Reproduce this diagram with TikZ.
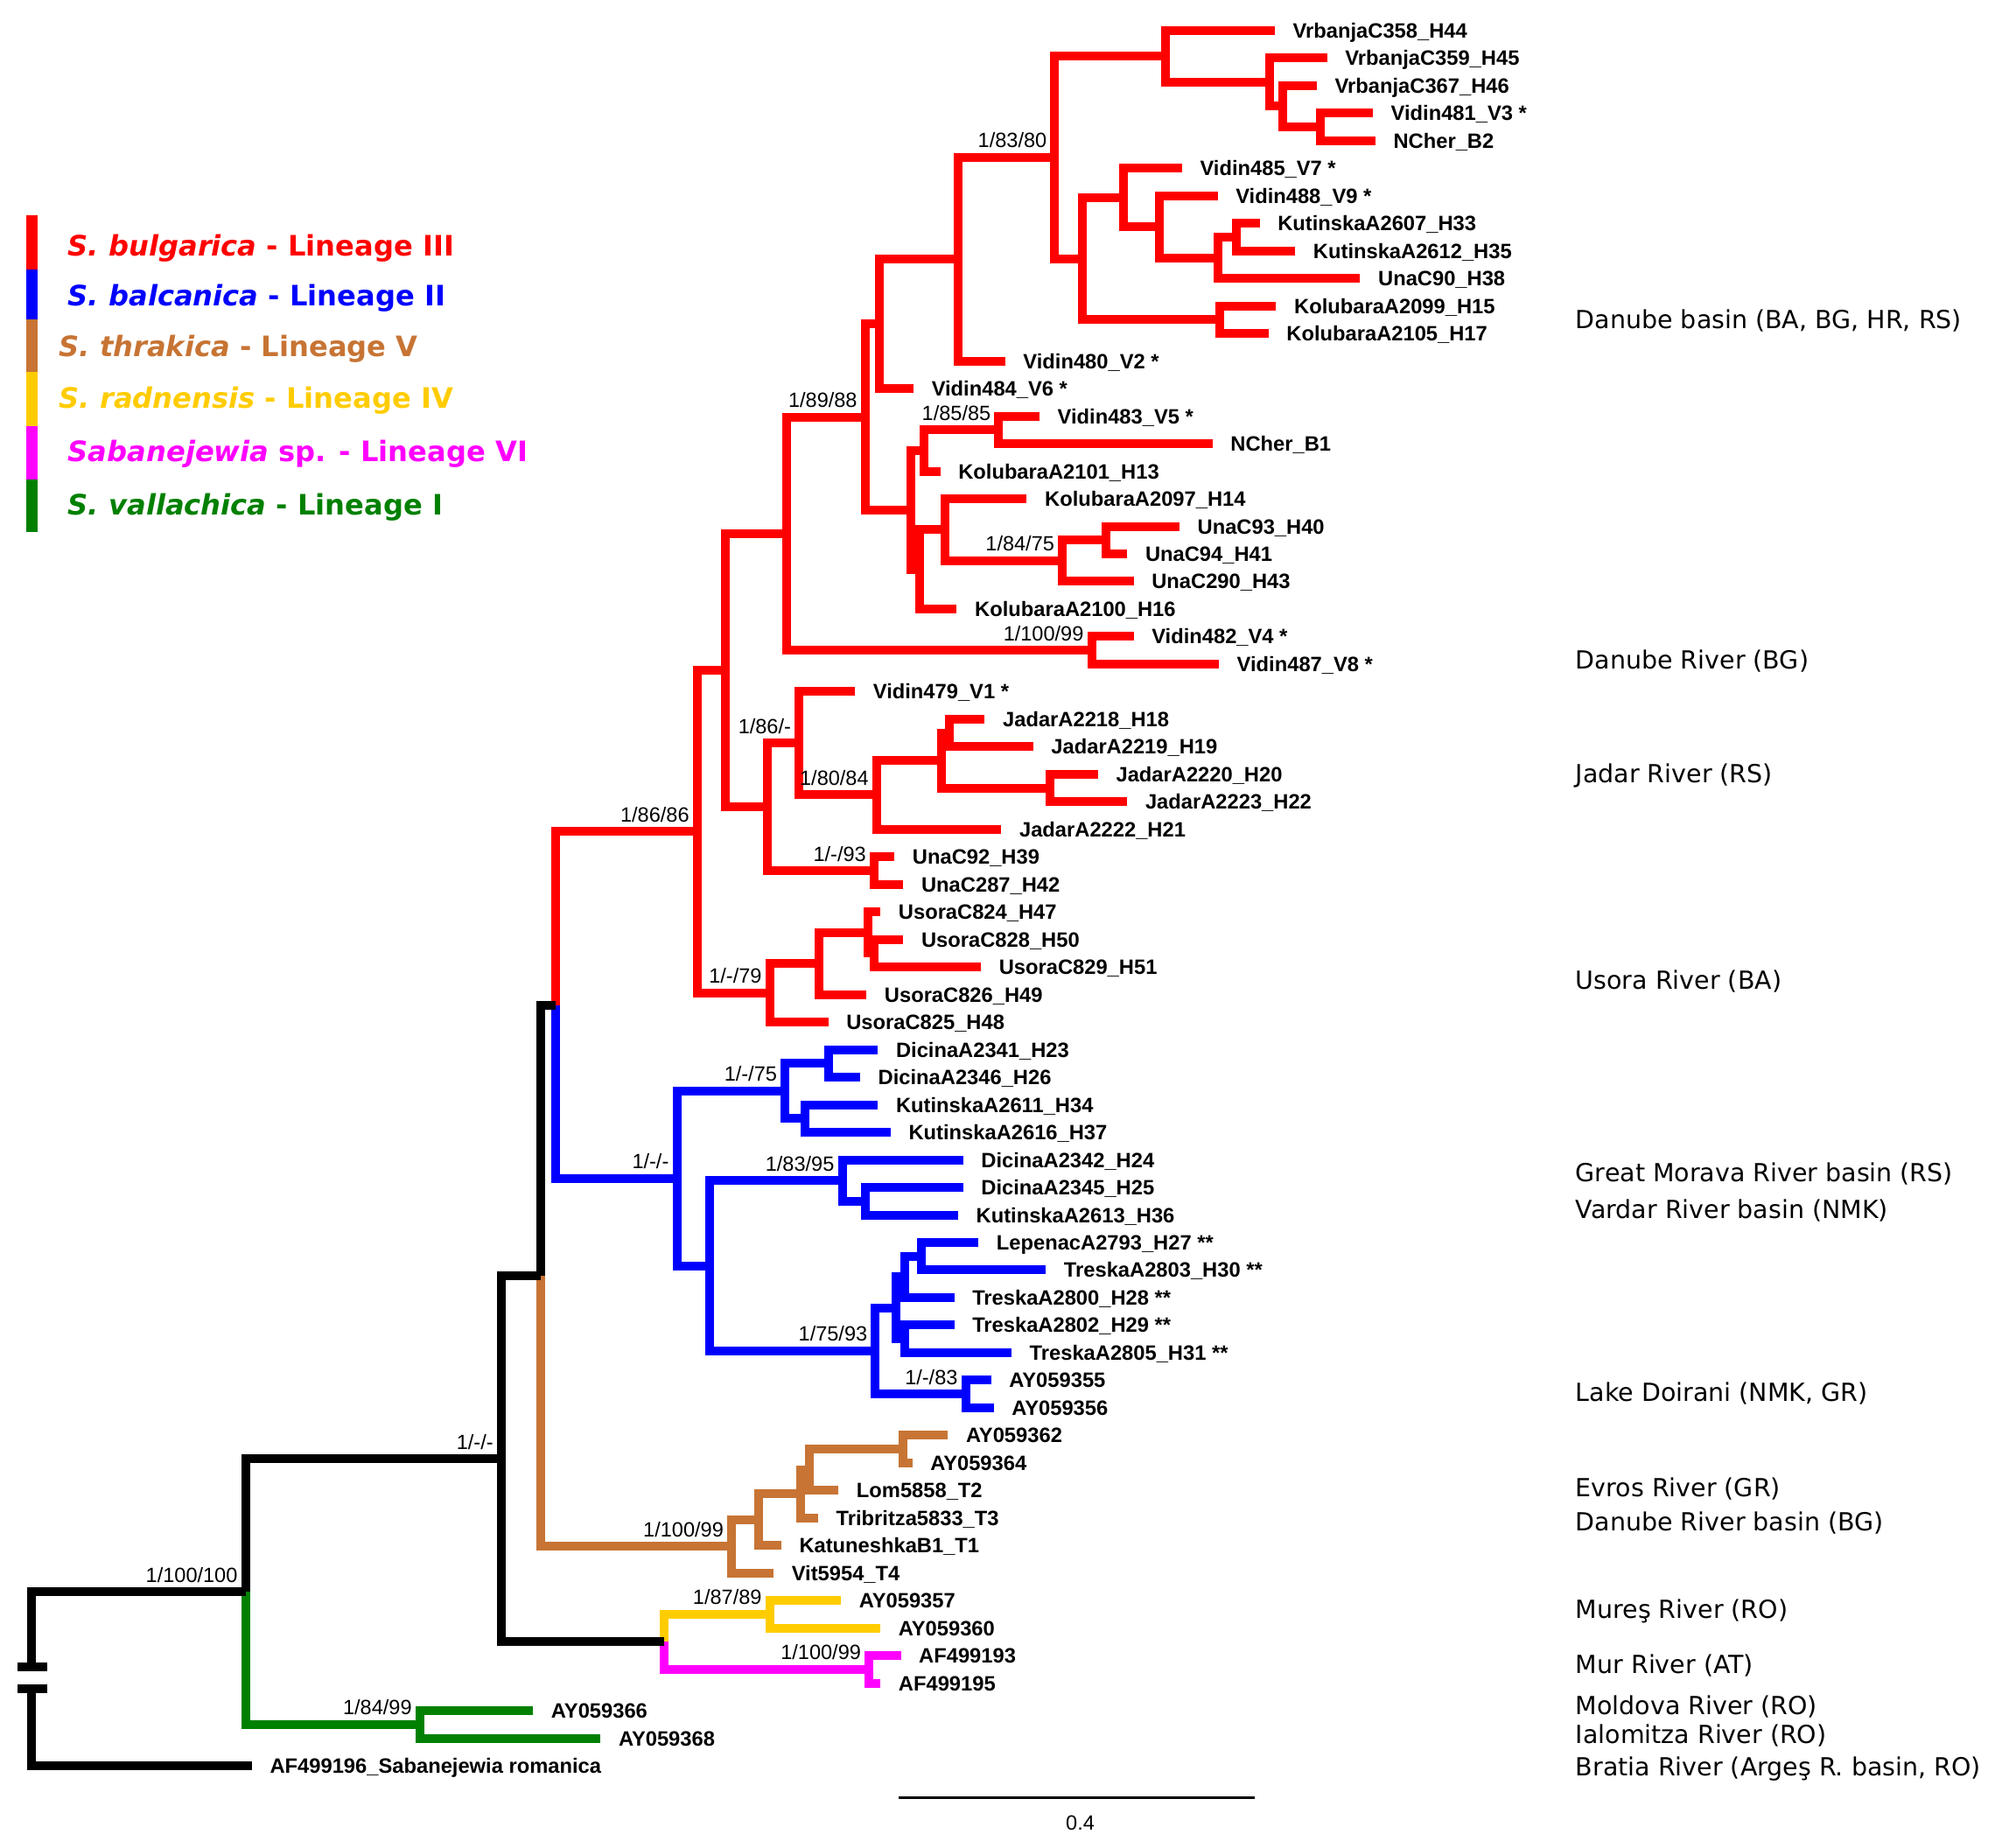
\documentclass[tikz,border=0pt]{standalone}
\usepackage{fontspec}
\setmainfont{Liberation Sans}
\newfontfamily\verdfont{DejaVu Sans}
\definecolor{cred}{RGB}{255,0,0}
\definecolor{cblue}{RGB}{0,0,255}
\definecolor{cbrown}{RGB}{199,116,52}
\definecolor{cyellow}{RGB}{255,204,0}
\definecolor{cmag}{RGB}{255,0,255}
\definecolor{cgreen}{RGB}{0,128,0}
\newcommand\mytip[3]{\coordinate (t#1) at (#2,#1); \node[tiplab] (l#1) at (t#1) {#3};}
\tikzset{
 br/.style={draw, line width=0.1cm},
 tiplab/.style={anchor=base west, inner sep=0pt, xshift=0.2cm, yshift=-0.085cm, font=\fontsize{6.75}{8}\selectfont\bfseries},
 suplab/.style={anchor=base east, inner sep=0pt, xshift=-0.085cm, yshift=0.11cm, font=\fontsize{6.7}{8}\selectfont},
 loclab/.style={anchor=base west, inner sep=0pt, yshift=-0.104cm, font=\verdfont\fontsize{8.1}{10}\selectfont},
 leglab/.style={anchor=base west, inner sep=0pt, yshift=-0.117cm, font=\verdfont\fontsize{9.15}{11}\selectfont\bfseries},
 legbar/.style={draw, line width=0.125cm},
}
\begin{document}
\begin{tikzpicture}[x=0.0145408cm, y=-0.31481cm]
\path[use as bounding box] (0,-0.1085) rectangle (1568,66.958);

% ---------- tips ----------
\mytip{1}{1002}{VrbanjaC358\_H44}
\mytip{2}{1043}{VrbanjaC359\_H45}
\mytip{3}{1035}{VrbanjaC367\_H46}
\mytip{4}{1079}{Vidin481\_V3 *}
\mytip{5}{1081}{NCher\_B2}
\mytip{6}{929}{Vidin485\_V7 *}
\mytip{7}{957}{Vidin488\_V9 *}
\mytip{8}{990}{KutinskaA2607\_H33}
\mytip{9}{1018}{KutinskaA2612\_H35}
\mytip{10}{1069}{UnaC90\_H38}
\mytip{11}{1003}{KolubaraA2099\_H15}
\mytip{12}{997}{KolubaraA2105\_H17}
\mytip{13}{790}{Vidin480\_V2 *}
\mytip{14}{718}{Vidin484\_V6 *}
\mytip{15}{817}{Vidin483\_V5 *}
\mytip{16}{953}{NCher\_B1}
\mytip{17}{739}{KolubaraA2101\_H13}
\mytip{18}{807}{KolubaraA2097\_H14}
\mytip{19}{927}{UnaC93\_H40}
\mytip{20}{886}{UnaC94\_H41}
\mytip{21}{891}{UnaC290\_H43}
\mytip{22}{752}{KolubaraA2100\_H16}
\mytip{23}{891}{Vidin482\_V4 *}
\mytip{24}{958}{Vidin487\_V8 *}
\mytip{25}{672}{Vidin479\_V1 *}
\mytip{26}{774}{JadarA2218\_H18}
\mytip{27}{812}{JadarA2219\_H19}
\mytip{28}{863}{JadarA2220\_H20}
\mytip{29}{886}{JadarA2223\_H22}
\mytip{30}{787}{JadarA2222\_H21}
\mytip{31}{703}{UnaC92\_H39}
\mytip{32}{710}{UnaC287\_H42}
\mytip{33}{692}{UsoraC824\_H47}
\mytip{34}{710}{UsoraC828\_H50}
\mytip{35}{771}{UsoraC829\_H51}
\mytip{36}{681}{UsoraC826\_H49}
\mytip{37}{651}{UsoraC825\_H48}
\mytip{38}{690}{DicinaA2341\_H23}
\mytip{39}{676}{DicinaA2346\_H26}
\mytip{40}{690}{KutinskaA2611\_H34}
\mytip{41}{700}{KutinskaA2616\_H37}
\mytip{42}{757}{DicinaA2342\_H24}
\mytip{43}{757}{DicinaA2345\_H25}
\mytip{44}{753}{KutinskaA2613\_H36}
\mytip{45}{769}{LepenacA2793\_H27 **}
\mytip{46}{822}{TreskaA2803\_H30 **}
\mytip{47}{750}{TreskaA2800\_H28 **}
\mytip{48}{750}{TreskaA2802\_H29 **}
\mytip{49}{795}{TreskaA2805\_H31 **}
\mytip{50}{779}{AY059355}
\mytip{51}{781}{AY059356}
\mytip{52}{745}{AY059362}
\mytip{53}{717}{AY059364}
\mytip{54}{659}{Lom5858\_T2}
\mytip{55}{643}{Tribritza5833\_T3}
\mytip{56}{614}{KatuneshkaB1\_T1}
\mytip{57}{608}{Vit5954\_T4}
\mytip{58}{661}{AY059357}
\mytip{59}{692}{AY059360}
\mytip{60}{708}{AF499193}
\mytip{61}{692}{AF499195}
\mytip{62}{419}{AY059366}
\mytip{63}{472}{AY059368}
\mytip{64}{198}{AF499196\_Sabanejewia romanica}

% ---------- internal nodes ----------
\coordinate (n916) at (916,1.9375);
\coordinate (n998) at (998,2.875);
\coordinate (n1008) at (1008,3.75);
\coordinate (n1038) at (1038,4.5);
\coordinate (n829) at (829,5.6094);
\coordinate (n851) at (851,9.2813);
\coordinate (n883) at (883,7.0625);
\coordinate (n911) at (911,8.125);
\coordinate (n957) at (957,9.25);
\coordinate (n972) at (972,8.5);
\coordinate (n959) at (959,11.5);
\coordinate (n753) at (753,9.3047);
\coordinate (n691) at (691,11.6523);
\coordinate (n785) at (785,15.5);
\coordinate (n726) at (726,16.25);
\coordinate (n869) at (869,19.5);
\coordinate (n835) at (835,20.25);
\coordinate (n743) at (743,19.125);
\coordinate (n723) at (723,20.5625);
\coordinate (n716) at (716,18.4063);
\coordinate (n680) at (680,15.0293);
\coordinate (n858) at (858,23.5);
\coordinate (n618) at (618,19.2647);
\coordinate (n746) at (746,26.5);
\coordinate (n825) at (825,28.5);
\coordinate (n740) at (740,27.5);
\coordinate (n689) at (689,28.75);
\coordinate (n628) at (628,26.875);
\coordinate (nuna) at (687,31.5);
\coordinate (n603) at (603,29.1875);
\coordinate (n570) at (570,24.2261);
\coordinate (nusb) at (687,34.5);
\coordinate (n682) at (682,33.75);
\coordinate (n644) at (644,34.875);
\coordinate (nus) at (605,35.9375);
\coordinate (n548) at (548,30.0818);
\coordinate (n651) at (651,38.5);
\coordinate (n633) at (633,40.5);
\coordinate (n617b) at (617,39.5);
\coordinate (n680b) at (680,43.5);
\coordinate (n662) at (662,42.75);
\coordinate (n724) at (724,45.5);
\coordinate (n710) at (711,46.25);
\coordinate (n712) at (711,48.5);
\coordinate (n704) at (704,47.375);
\coordinate (n759) at (759,50.5);
\coordinate (n688) at (688,48.9375);
\coordinate (n558) at (558,45.8438);
\coordinate (n532) at (532,42.6719);
\coordinate (n710c) at (710,52.5);
\coordinate (n636) at (636,53.25);
\coordinate (n629) at (629,54.125);
\coordinate (n596) at (596,55.0625);
\coordinate (n575) at (575,56.0313);
\coordinate (n605y) at (605,58.5);
\coordinate (n683) at (683,60.5);
\coordinate (n522) at (522,59.5);
\coordinate (n330) at (330,62.5);
\coordinate (n437) at (437,36.3768);
\coordinate (n425) at (425,46.204);
\coordinate (n394) at (394,52.852);
\coordinate (n193) at (193,57.676);
\coordinate (brtop) at (25,60.4);
\coordinate (brbot) at (25,61.2);

% ---------- branches ----------
\foreach \a/\b in {n916/t1,n916/n998,n998/t2,n998/n1008,n1008/t3,n1008/n1038,n1038/t4,n1038/t5,
 n829/n916,n829/n851,n851/n883,n851/n959,n883/t6,n883/n911,n911/t7,n911/n957,n957/n972,n957/t10,
 n972/t8,n972/t9,n959/t11,n959/t12,n753/n829,n753/t13,n691/n753,n691/t14,
 n785/t15,n785/t16,n726/n785,n726/t17,n869/t19,n869/t20,n835/n869,n835/t21,n743/t18,n743/n835,
 n723/n743,n723/t22,n716/n726,n716/n723,n680/n691,n680/n716,n858/t23,n858/t24,n618/n680,n618/n858,
 n746/t26,n746/t27,n825/t28,n825/t29,n740/n746,n740/n825,n689/n740,n689/t30,n628/t25,n628/n689,
 nuna/t31,nuna/t32,n603/n628,n603/nuna,n570/n618,n570/n603,
 nusb/t34,nusb/t35,n682/t33,n682/nusb,n644/n682,n644/t36,nus/n644,nus/t37,n548/n570,n548/nus,n437/n548}
 \draw[br,cred] (\a) |- (\b);
\foreach \a/\b in {n651/t38,n651/t39,n633/t40,n633/t41,n617b/n651,n617b/n633,n680b/t43,n680b/t44,
 n662/t42,n662/n680b,n724/t45,n724/t46,n710/n724,n710/t47,n712/t48,n712/t49,n704/n710,n704/n712,
 n759/t50,n759/t51,n688/n704,n688/n759,n558/n662,n558/n688,n532/n617b,n532/n558,n437/n532}
 \draw[br,cblue] (\a) |- (\b);
\foreach \a/\b in {n710c/t52,n710c/t53,n636/n710c,n636/t54,n629/n636,n629/t55,n596/n629,n596/t56,
 n575/n596,n575/t57,n425/n575}
 \draw[br,cbrown] (\a) |- (\b);
\foreach \a/\b in {n605y/t58,n605y/t59,n522/n605y}
 \draw[br,cyellow] (\a) |- (\b);
\foreach \a/\b in {n683/t60,n683/t61,n522/n683}
 \draw[br,cmag] (\a) |- (\b);
\foreach \a/\b in {n330/t62,n330/t63,n193/n330}
 \draw[br,cgreen] (\a) |- (\b);
\foreach \a/\b in {n425/n437,n394/n425,n394/n522,n193/n394,brtop/n193,brbot/t64}
 \draw[br,black] (\a) |- (\b);
\draw[br,black] (brtop) ++(-11,0) -- ++(23,0);
\draw[br,black] (brbot) ++(-11,0) -- ++(23,0);

% ---------- support values ----------
\node[suplab] (s829) at (n829) {1/83/80};
\node[suplab] (s680) at (n680) {1/89/88};
\node[suplab] (s785) at (n785) {1/85/85};
\node[suplab] (s835) at (n835) {1/84/75};
\node[suplab] (s858) at (n858) {1/100/99};
\node[suplab] (s628) at (n628) {1/86/-};
\node[suplab] (s689) at (n689) {1/80/84};
\node[suplab] (suna) at (nuna) {1/-/93};
\node[suplab] (sus) at (nus) {1/-/79};
\node[suplab] (s548) at (n548) {1/86/86};
\node[suplab] (s617b) at (n617b) {1/-/75};
\node[suplab] (s532) at (n532) {1/-/-};
\node[suplab] (s662) at (n662) {1/83/95};
\node[suplab] (s688) at (n688) {1/75/93};
\node[suplab] (s759) at (n759) {1/-/83};
\node[suplab] (s575) at (n575) {1/100/99};
\node[suplab] (s605y) at (n605y) {1/87/89};
\node[suplab] (s683) at (n683) {1/100/99};
\node[suplab] (s394) at (n394) {1/-/-};
\node[suplab] (s330) at (n330) {1/84/99};
\node[suplab] (s193) at (n193) {1/100/100};

% ---------- locations ----------
\node[loclab] (r1) at (1238,11.485) {Danube basin (BA, BG, HR, RS)};
\node[loclab] (r2) at (1238,23.86) {Danube River (BG)};
\node[loclab] (r3) at (1238,27.97) {Jadar River (RS)};
\node[loclab] (r4) at (1238,35.46) {Usora River (BA)};
\node[loclab] (r5) at (1238,42.45) {Great Morava River basin (RS)};
\node[loclab] (r6) at (1238,43.79) {Vardar River basin (NMK)};
\node[loclab] (r7) at (1238,50.42) {Lake Doirani (NMK, GR)};
\node[loclab] (r8) at (1238,53.91) {Evros River (GR)};
\node[loclab] (r9) at (1238,55.13) {Danube River basin (BG)};
\node[loclab] (r10) at (1238,58.32) {Mureş River (RO)};
\node[loclab] (r11) at (1238,60.31) {Mur River (AT)};
\node[loclab] (r12) at (1238,61.81) {Moldova River (RO)};
\node[loclab] (r13) at (1238,62.87) {Ialomitza River (RO)};
\node[loclab] (r14) at (1238,64.03) {Bratia River (Argeş R. basin, RO)};

% ---------- legend ----------
\coordinate (lb0) at (25,7.70);
\coordinate (lb1) at (25,9.67);
\coordinate (lb2) at (25,11.48);
\coordinate (lb3) at (25,13.39);
\coordinate (lb4) at (25,15.36);
\coordinate (lb5) at (25,17.30);
\coordinate (lb6) at (25,19.21);
\draw[legbar,cred] (lb0) -- (lb1);
\draw[legbar,cblue] (lb1) -- (lb2);
\draw[legbar,cbrown] (lb2) -- (lb3);
\draw[legbar,cyellow] (lb3) -- (lb4);
\draw[legbar,cmag] (lb4) -- (lb5);
\draw[legbar,cgreen] (lb5) -- (lb6);
\node[leglab,text=cred] (g1) at (53,8.82) {\textit{S. bulgarica} - Lineage III};
\node[leglab,text=cblue] (g2) at (53,10.63) {\textit{S. balcanica} - Lineage II};
\node[leglab,text=cbrown] (g3) at (46,12.45) {\textit{S. thrakica} - Lineage V};
\node[leglab,text=cyellow] (g4) at (46,14.35) {\textit{S. radnensis} - Lineage IV};
\node[leglab,text=cmag] (g5) at (53,16.29) {\textit{Sabanejewia} sp. - Lineage VI};
\node[leglab,text=cgreen] (g6) at (53,18.22) {\textit{S. vallachica} - Lineage I};

% ---------- scale bar ----------
\coordinate (sb1) at (706,65.16);
\coordinate (sb2) at (986,65.16);
\draw[line width=0.03cm] (sb1) -- (sb2);
\node[inner sep=0pt, font=\fontsize{6.7}{8}\selectfont] (sbl) at (849,66.08) {0.4};
\end{tikzpicture}
\end{document}
